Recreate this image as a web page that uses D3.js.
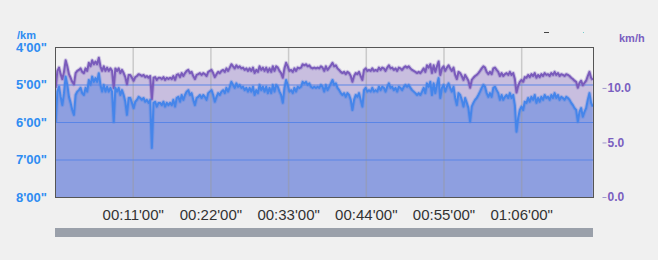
<!DOCTYPE html>
<html>
<head>
<meta charset="utf-8">
<script src="https://cdn.jsdelivr.net/npm/d3@7"></script>
<style>
  html, body { margin: 0; padding: 0; background: #f0f0f0; }
  svg { display: block; }
</style>
</head>
<body>
<div id="chart"></div>
<script>
// ---------- data ----------
const paceTicks = [4, 5, 6, 7, 8];                 // min/km
const paceGrid = [5, 6, 7];
const speedTicks = [0, 5, 10];                     // km/h
const timeTicks = [660, 1320, 1980, 2640, 3300, 3960]; // seconds
const timeTickLabels = ["00:11'00\"", "00:22'00\"", "00:33'00\"", "00:44'00\"", "00:55'00\"", "01:06'00\""];
const totalSeconds = 4570;
const sampleStart = 6;      // seconds
const sampleStep = 14.08;   // seconds between samples

// pace in minutes per km
const pace = [
6.00,5.19,5.06,5.33,5.55,5.23,4.79,5.01,5.33,5.49,5.68,5.81,5.28,5.19,5.15,5.09,5.23,5.28,5.09,5.19,
4.88,5.01,4.79,4.93,4.83,4.93,4.70,5.01,5.19,5.01,5.19,5.06,5.19,5.09,5.19,6.00,5.09,5.19,5.09,5.28,
5.15,5.28,5.46,5.81,5.36,5.36,5.49,5.63,5.46,5.41,5.33,5.36,5.41,5.36,5.46,5.41,5.49,5.41,6.69,5.49,
5.46,5.59,5.49,5.49,5.55,5.46,5.59,5.49,5.55,5.49,5.55,5.41,5.59,5.36,5.33,5.46,5.28,5.41,5.28,5.19,5.15,
5.28,5.23,5.41,5.55,5.36,5.33,5.28,5.36,5.28,5.33,
5.41,5.23,5.19,5.15,5.28,5.46,5.33,5.23,5.28,5.19,
5.15,5.23,5.09,5.19,5.06,4.93,5.01,5.09,4.97,5.06,
5.01,5.09,5.06,5.15,5.09,5.19,5.09,5.19,5.06,5.28,
5.15,5.23,5.01,5.15,5.06,5.19,5.06,5.23,5.09,5.23,
5.01,5.19,5.01,5.06,5.19,5.28,5.49,5.09,4.88,5.01,
5.19,5.15,5.23,5.09,5.19,5.06,5.09,5.06,4.93,4.97,
4.93,5.01,4.97,5.06,5.09,5.06,5.09,5.06,5.09,5.01,
5.06,
5.19,5.01,5.15,5.06,4.97,4.88,5.01,4.97,5.09,5.15,
5.23,5.28,5.23,5.33,5.23,5.28,5.41,5.68,5.41,5.28,
5.33,5.23,5.41,5.59,5.15,5.09,5.19,5.15,5.19,5.09,
5.19,5.15,5.19,5.06,5.15,5.06,5.09,5.19,5.06,4.97,
5.09,5.06,5.15,5.09,5.19,5.06,5.09,5.15,5.06,5.01,
5.06,5.01,5.09,5.15,5.19,5.23,5.28,5.23,5.28,5.19,
5.09,5.23,4.97,5.06,4.93,5.28,4.97,5.23,5.01,4.83,
5.36,5.09,5.01,5.19,5.06,4.97,5.09,5.19,5.06,5.36,
5.55,
5.23,5.28,5.41,5.59,5.36,5.49,5.63,5.99,5.59,5.49,
5.41,5.36,5.28,5.19,5.09,5.01,5.06,5.23,5.33,5.23,
5.33,5.09,5.06,5.15,5.23,5.41,5.28,5.41,5.33,5.28,
5.36,5.23,5.36,5.28,5.55,6.26,5.89,5.68,5.59,5.68,
5.46,5.49,5.36,5.46,5.33,5.41,5.28,5.49,5.36,5.46,
5.33,5.41,5.28,5.36,5.33,5.41,5.28,5.36,5.23,5.36,
5.28,5.41,5.33,5.36,5.41,5.33,5.36,5.41,5.49,5.55,
5.63,5.68,5.99,5.73,5.63,5.86,5.73,5.63,5.41,5.23,
5.49,5.59
];

// speed in km/h
const speed = [
10.00,11.56,11.86,11.26,10.81,11.47,12.53,11.98,11.26,10.93,10.56,10.33,11.36,11.56,11.65,11.79,11.47,11.36,11.79,11.56,
12.30,11.98,12.53,12.17,12.42,12.17,12.77,11.98,11.56,11.98,11.56,11.86,11.56,11.79,11.56,10.00,11.79,11.56,11.79,11.36,
11.65,11.36,10.99,10.33,11.19,11.19,10.93,10.66,10.99,11.09,11.26,11.19,11.09,11.19,10.99,11.09,10.93,11.09,8.97,10.93,
10.99,10.73,10.93,10.93,10.81,10.99,10.73,10.93,10.81,10.93,10.81,11.09,10.73,11.19,11.26,10.99,11.36,11.09,11.36,11.56,11.65,
11.36,11.47,11.09,10.81,11.19,11.26,11.36,11.19,11.36,11.26,
11.09,11.47,11.56,11.65,11.36,10.99,11.26,11.47,11.36,11.56,
11.65,11.47,11.79,11.56,11.86,12.17,11.98,11.79,12.07,11.86,
11.98,11.79,11.86,11.65,11.79,11.56,11.79,11.56,11.86,11.36,
11.65,11.47,11.98,11.65,11.86,11.56,11.86,11.47,11.79,11.47,
11.98,11.56,11.98,11.86,11.56,11.36,10.93,11.79,12.30,11.98,
11.56,11.65,11.47,11.79,11.56,11.86,11.79,11.86,12.17,12.07,
12.17,11.98,12.07,11.86,11.79,11.86,11.79,11.86,11.79,11.98,
11.86,
11.56,11.98,11.65,11.86,12.07,12.30,11.98,12.07,11.79,11.65,
11.47,11.36,11.47,11.26,11.47,11.36,11.09,10.56,11.09,11.36,
11.26,11.47,11.09,10.73,11.65,11.79,11.56,11.65,11.56,11.79,
11.56,11.65,11.56,11.86,11.65,11.86,11.79,11.56,11.86,12.07,
11.79,11.86,11.65,11.79,11.56,11.86,11.79,11.65,11.86,11.98,
11.86,11.98,11.79,11.65,11.56,11.47,11.36,11.47,11.36,11.56,
11.79,11.47,12.07,11.86,12.17,11.36,12.07,11.47,11.98,12.42,
11.19,11.79,11.98,11.56,11.86,12.07,11.79,11.56,11.86,11.19,
10.81,
11.47,11.36,11.09,10.73,11.19,10.93,10.66,10.02,10.73,10.93,
11.09,11.19,11.36,11.56,11.79,11.98,11.86,11.47,11.26,11.47,
11.26,11.79,11.86,11.65,11.47,11.09,11.36,11.09,11.26,11.36,
11.19,11.47,11.19,11.36,10.81,9.58,10.19,10.56,10.73,10.56,
10.99,10.93,11.19,10.99,11.26,11.09,11.36,10.93,11.19,10.99,
11.26,11.09,11.36,11.19,11.26,11.09,11.36,11.19,11.47,11.19,
11.36,11.09,11.26,11.19,11.09,11.26,11.19,11.09,10.93,10.81,
10.66,10.56,10.02,10.47,10.66,10.24,10.47,10.66,11.09,11.47,
10.93,10.73
];

// ---------- layout ----------
const W = 658, H = 260;
const L = 55, R = 593, T = 47, B = 197;

const svg = d3.select("#chart").append("svg")
  .attr("width", W).attr("height", H)
  .style("font-family", "'Liberation Sans', Arial, sans-serif");

svg.append("rect").attr("width", W).attr("height", H).attr("fill", "#f0f0f0");
svg.append("rect").attr("x", L).attr("y", T).attr("width", R - L).attr("height", B - T).attr("fill", "#f2f2f2");

const x = d3.scaleLinear().domain([0, totalSeconds]).range([L, R]);
const yPace = d3.scaleLinear().domain([4, 8]).range([T, B]);
const ySpeed = d3.scaleLinear().domain([0, 13.75]).range([B, T]);

const t = i => sampleStart + i * sampleStep;

svg.append("clipPath").attr("id", "clip")
  .append("rect").attr("x", L).attr("y", T).attr("width", R - L).attr("height", B - T);

const plot = svg.append("g").attr("clip-path", "url(#clip)");

// speed area
plot.append("path").datum(speed)
  .attr("fill", "#c8bedf")
  .attr("d", d3.area().x((d, i) => x(t(i))).y0(B).y1(d => ySpeed(d)));

// pace area
plot.append("path").datum(pace)
  .attr("fill", "#8e9fe0")
  .attr("d", d3.area().x((d, i) => x(t(i))).y0(B).y1(d => yPace(d)));

// vertical grid
plot.append("g").attr("transform", `translate(0,${B})`)
  .call(d3.axisBottom(x).tickValues(timeTicks).tickSize(-(B - T)).tickFormat(""))
  .call(g => g.select(".domain").remove())
  .call(g => g.selectAll("line").attr("stroke", "#9a9a9a").attr("stroke-opacity", 0.45).attr("stroke-width", 1.5));

// horizontal grid (pace)
plot.append("g").attr("transform", `translate(${L},0)`)
  .call(d3.axisLeft(yPace).tickValues(paceGrid).tickSize(-(R - L)).tickFormat(""))
  .call(g => g.select(".domain").remove())
  .call(g => g.selectAll("line").attr("stroke", "#5a85e6").attr("stroke-width", 1));

// lines with soft halo
const speedLine = d3.line().x((d, i) => x(t(i))).y(d => ySpeed(d));
const paceLine = d3.line().x((d, i) => x(t(i))).y(d => yPace(d));

plot.append("path").datum(speed).attr("fill", "none")
  .attr("stroke", "#7b5cbc").attr("stroke-opacity", 0.3).attr("stroke-width", 4)
  .attr("stroke-linejoin", "round").attr("d", speedLine);
plot.append("path").datum(speed).attr("fill", "none")
  .attr("stroke", "#7a5bbb").attr("stroke-width", 2)
  .attr("stroke-linejoin", "round").attr("d", speedLine);

plot.append("path").datum(pace).attr("fill", "none")
  .attr("stroke", "#4a86e8").attr("stroke-opacity", 0.3).attr("stroke-width", 4)
  .attr("stroke-linejoin", "round").attr("d", paceLine);
plot.append("path").datum(pace).attr("fill", "none")
  .attr("stroke", "#4585ea").attr("stroke-width", 2)
  .attr("stroke-linejoin", "round").attr("d", paceLine);

// plot border
svg.append("rect").attr("x", L + 0.5).attr("y", T + 0.5).attr("width", R - L).attr("height", B - T)
  .attr("fill", "none").attr("stroke", "#555").attr("stroke-width", 1);

// left axis (pace)
svg.append("g").attr("transform", `translate(47,0)`)
  .call(d3.axisLeft(yPace).tickValues(paceTicks).tickSize(0).tickPadding(0)
    .tickFormat(d => d + "'00\""))
  .call(g => g.select(".domain").remove())
  .call(g => g.selectAll("text").attr("fill", "#2f8cf2").attr("font-weight", "bold")
    .attr("font-size", 13).attr("font-family", "'Liberation Sans', Arial, sans-serif"));

svg.append("text").attr("x", 17).attr("y", 38.5).text("/km")
  .attr("fill", "#2f8cf2").attr("font-weight", "bold").attr("font-size", 11);

// right axis (speed)
svg.append("g").attr("transform", `translate(602.5,0)`)
  .call(d3.axisRight(ySpeed).tickValues(speedTicks).tickSize(4).tickPadding(1)
    .tickFormat(d3.format(".1f")))
  .call(g => g.select(".domain").remove())
  .call(g => g.selectAll("line").attr("stroke", "#a096cc"))
  .call(g => g.selectAll("text").attr("fill", "#7a5fc0").attr("font-weight", "bold")
    .attr("font-size", 12).attr("font-family", "'Liberation Sans', Arial, sans-serif"));

svg.append("text").attr("x", 619).attr("y", 42).text("km/h")
  .attr("fill", "#7a5fc0").attr("font-weight", "bold").attr("font-size", 11);

// bottom axis labels
svg.append("g").attr("transform", `translate(0,${B})`)
  .call(d3.axisBottom(x).tickValues(timeTicks).tickSize(0).tickPadding(12)
    .tickFormat((d, i) => timeTickLabels[i]))
  .call(g => g.select(".domain").remove())
  .call(g => g.selectAll("text").attr("fill", "#333").attr("font-size", 15)
    .attr("font-family", "'Liberation Sans', Arial, sans-serif"));

// scrollbar
svg.append("rect").attr("x", L).attr("y", 228).attr("width", R - L).attr("height", 9).attr("fill", "#9aa0aa");

// small legend remnants
svg.append("line").attr("x1", 544).attr("x2", 549).attr("y1", 32.5).attr("y2", 32.5)
  .attr("stroke", "#444").attr("stroke-width", 1);
svg.append("rect").attr("x", 583).attr("y", 32).attr("width", 1).attr("height", 1).attr("fill", "#7cc");
</script>
</body>
</html>
